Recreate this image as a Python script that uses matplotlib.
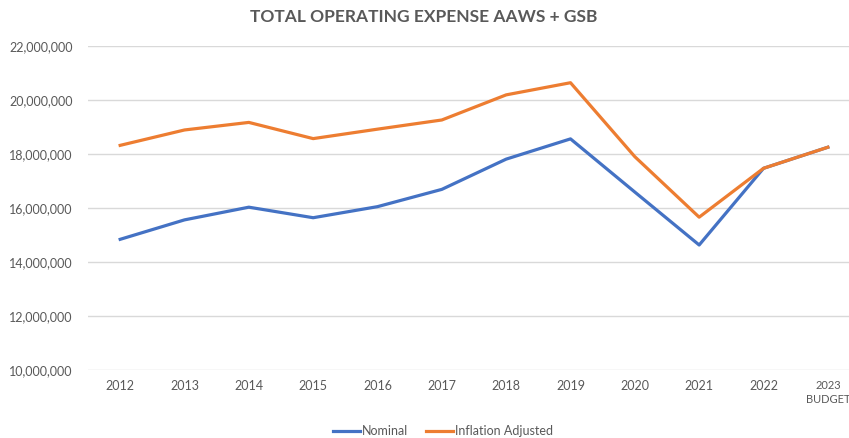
import numpy as np
import matplotlib.pyplot as plt
from matplotlib.ticker import FuncFormatter

plt.rcParams['font.family'] = ['Lato', 'DejaVu Sans']

# Data
years = ['2012', '2013', '2014', '2015', '2016', '2017', '2018', '2019',
         '2020', '2021', '2022', '2023\nBUDGET']
nominal = [14.84, 15.56, 16.03, 15.64, 16.05, 16.69, 17.81, 18.56,
           16.59, 14.63, 17.47, 18.25]
inflation_adj = [18.32, 18.89, 19.17, 18.57, 18.92, 19.26, 20.19, 20.64,
                 17.90, 15.66, 17.47, 18.25]
nominal = np.array(nominal) * 1e6
inflation_adj = np.array(inflation_adj) * 1e6

grey = '#595959'
fig = plt.figure(figsize=(8.49, 4.38), dpi=100)
# plot area runs past the right edge (cropped like the original)
ax = fig.add_axes([88/849, 68/438, 772/849, 324/438])

x = np.arange(len(years))
ax.plot(x, nominal, color='#4472C4', lw=2.3, label='Nominal', solid_joinstyle='round')
ax.plot(x, inflation_adj, color='#ED7D31', lw=2.3, label='Inflation Adjusted', solid_joinstyle='round')

ax.set_xlim(-0.5, len(years) - 0.5)
ax.set_ylim(10e6, 22e6)
ax.set_yticks(np.arange(10e6, 22e6 + 1, 2e6))
ax.yaxis.set_major_formatter(FuncFormatter(lambda v, p: '{:,.0f}'.format(v)))
ax.set_xticks(x)
ax.set_xticklabels(years, linespacing=1.4)
ax.tick_params(axis='both', length=0, colors=grey, labelsize=9)
ax.tick_params(axis='x', pad=7)
ax.tick_params(axis='y', pad=11)
# last label sits at the cropped edge, keep it inside
ax.get_xticklabels()[-1].set_fontsize(8)
ax.grid(axis='y', color='#D9D9D9', lw=1)
ax.set_axisbelow(True)
for s in ax.spines.values():
    s.set_visible(False)

fig.text(424/849, 1 - 17/438, 'TOTAL OPERATING EXPENSE AAWS + GSB', ha='center', va='center',
         fontsize=12.5, fontweight='bold', color=grey)

fig.legend(loc='center', bbox_to_anchor=(443/849, 1 - 431/438), ncol=2, frameon=False,
           fontsize=9, labelcolor=grey, handlelength=2.2, handletextpad=0.15,
           columnspacing=1.4)

fig.savefig('out.png', dpi=100)
